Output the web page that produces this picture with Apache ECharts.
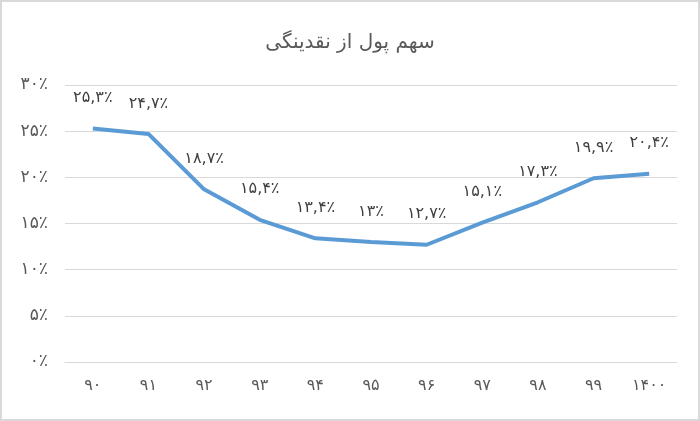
<!DOCTYPE html>
<html>
<head>
<meta charset="utf-8">
<script src="https://cdn.jsdelivr.net/npm/echarts@6/dist/echarts.min.js"></script>
<style>
html,body{margin:0;padding:0;background:#fff;}
#c{width:700px;height:421px;box-sizing:border-box;border:2px solid #d9d9d9;}
</style>
</head>
<body>
<div id="c"></div>
<script>
const categories = ['۹۰','۹۱','۹۲','۹۳','۹۴','۹۵','۹۶','۹۷','۹۸','۹۹','۱۴۰۰'];
const values = [25.3, 24.7, 18.7, 15.4, 13.4, 13, 12.7, 15.1, 17.3, 19.9, 20.4];
const titleText = 'سهم پول از نقدینگی';

const fa = ['۰','۱','۲','۳','۴','۵','۶','۷','۸','۹'];
function toFa(v){
  return String(v).replace(/\d/g, d => fa[+d]).replace('.', ',') + '٪';
}
const font = 'DejaVu Sans';
const chart = echarts.init(document.getElementById('c'));
chart.setOption({
  animation:false,
  title:{text:titleText,left:'center',top:26,textStyle:{fontFamily:font,fontSize:20,fontWeight:'normal',color:'#595959'}},
  grid:{left:63,right:21,top:83,bottom:57},
  xAxis:{type:'category',data:categories,boundaryGap:true,
    axisLine:{lineStyle:{color:'#d9d9d9'}},axisTick:{show:false},
    axisLabel:{fontFamily:font,fontSize:16,color:'#595959',margin:16}},
  yAxis:{type:'value',min:0,max:30,interval:5,
    axisLine:{show:false},axisTick:{show:false},
    splitLine:{lineStyle:{color:'#d9d9d9',width:1}},
    axisLabel:{fontFamily:font,fontSize:17,color:'#595959',margin:17,formatter:v=>toFa(v)}},
  series:[{type:'line',data:values,symbol:'circle',symbolSize:1,showSymbol:true,
    itemStyle:{color:'rgba(0,0,0,0)',borderWidth:0},
    lineStyle:{color:'#5b9bd5',width:4},
    labelLayout:{hideOverlap:false},
    label:{show:true,position:'top',distance:22,fontFamily:font,fontSize:16,color:'#404040',formatter:p=>toFa(p.value)}}]
});
</script>
</body>
</html>
